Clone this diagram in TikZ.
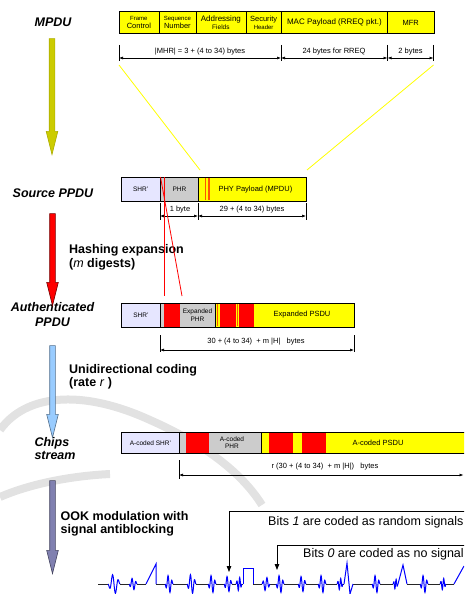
\documentclass[tikz,border=0pt]{standalone}
\usepackage{fontspec}
\setmainfont{Liberation Sans}
\usetikzlibrary{arrows.meta,shapes.arrows}

\definecolor{mpduyel}{HTML}{FFFF00}
\definecolor{hdrgrey}{HTML}{CCCCCC}
\definecolor{shrlav}{HTML}{E6E6FF}
\definecolor{olivey}{HTML}{CCCC00}
\definecolor{codeblue}{HTML}{99CCFF}
\definecolor{ookpurple}{HTML}{8080B0}
\definecolor{sigblue}{HTML}{0000FF}
\definecolor{stripeor}{HTML}{FF5500}
\definecolor{wmgrey}{HTML}{E2E2E2}

\begin{document}
\begin{tikzpicture}[x=1pt,y=-1pt,
  fld/.style={draw,line width=0.8pt,inner sep=0pt,anchor=north west,align=center,font=\fontsize{7.5}{8}\selectfont},
  blk/.style={fill=red,inner sep=0pt,anchor=north west},
  tiny/.style={font=\fontsize{6.5}{7.5}\selectfont,align=center,inner sep=0pt},
  lbl/.style={font=\fontsize{12.5}{15}\selectfont\bfseries\itshape,align=center},
  stagelbl/.style={font=\fontsize{12.5}{13.5}\selectfont\bfseries,align=left,anchor=west,inner sep=0pt},
  tick/.style={line width=0.7pt},
  dim/.style={line width=0.6pt,{Latex[length=4pt,width=3pt]}-{Latex[length=4pt,width=3pt]}},
  dimtxt/.style={font=\fontsize{7.5}{9}\selectfont,inner sep=0pt},
  blkarrow/.style={single arrow,rotate=-90,inner sep=2.5pt,single arrow head extend=3pt,single arrow tip angle=28,line width=0.6pt},
  bitlbl/.style={font=\fontsize{12.5}{14}\selectfont,anchor=west,inner sep=0pt},
  sig/.style={sigblue,line width=1pt},
  zero/.style={black!85,line width=0.9pt}]

\useasboundingbox (0,0) rectangle (464,594);
\clip (0,0) rectangle (464,594);

% watermark
\draw[wmgrey,line width=8pt] (0,430) .. controls (25,395) and (80,388) .. (150,420) .. controls (200,442) and (240,470) .. (262,505);
\draw[wmgrey,line width=8pt] (0,497) .. controls (30,484) and (70,476) .. (110,474);

% stage labels
\node[lbl] (mpdul) at (53,22) {MPDU};
\node[lbl] (srcl) at (53,193) {Source PPDU};
\node[lbl] (authl) at (52.5,314.5) {Authenticated\\PPDU};
\node[lbl,align=left,anchor=west,font=\fontsize{12.5}{13.5}\selectfont\bfseries\itshape] (chipl) at (31,448.5) {Chips\\stream};

% stage arrows
\node[blkarrow,fill=olivey,draw=olivey!85!black,minimum height=116] (a1) at (52,91) {};
\node[blkarrow,fill=red,draw=red!45!black,minimum height=92] (a2) at (52.5,254) {};
\node[blkarrow,fill=codeblue,draw=codeblue!55!black,minimum height=92] (a3) at (52.5,386) {};
\node[blkarrow,fill=ookpurple,draw=ookpurple!55!black,minimum height=93] (a4) at (52.5,521.5) {};

\node[stagelbl] (hashl) at (69,257.5) {Hashing expansion\\(\textit{\mdseries m} digests)};
\node[stagelbl] (unil) at (69,377) {Unidirectional coding\\(rate \textit{\mdseries r} )};
\node[stagelbl] (ookl) at (60.5,524) {OOK modulation with\\signal antiblocking};

% MPDU
\node[fld,fill=mpduyel,minimum width=40,minimum height=22.5] (fc) at (118.5,11) {{\fontsize{6}{7}\selectfont Frame}\\Control};
\node[fld,fill=mpduyel,minimum width=37,minimum height=22.5] (sn) at (158.5,11) {{\fontsize{6}{7}\selectfont Sequence}\\Number};
\node[fld,fill=mpduyel,minimum width=50,minimum height=22.5] (af) at (195.5,11) {{\fontsize{8}{8}\selectfont Addressing}\\{\fontsize{6.5}{7}\selectfont Fields}};
\node[fld,fill=mpduyel,minimum width=35.5,minimum height=22.5] (sh) at (245.5,11) {Security\\{\fontsize{6}{7}\selectfont Header}};
\node[fld,fill=mpduyel,minimum width=106,minimum height=22.5,font=\fontsize{8}{9}\selectfont] (mp) at (281,11) {MAC Payload (RREQ pkt.)};
\node[fld,fill=mpduyel,minimum width=46.5,minimum height=22.5] (mfr) at (387,11) {MFR};

\coordinate (m0) at (119,58);
\coordinate (m1) at (281,58);
\coordinate (m2) at (387.5,58);
\coordinate (m3) at (433.5,58);
\draw[tick] (m0) ++(0,-13) -- ++(0,16.5);
\draw[tick] (m1) ++(0,-13) -- ++(0,16.5);
\draw[tick] (m2) ++(0,-13) -- ++(0,16.5);
\draw[tick] (m3) ++(0,-13) -- ++(0,16.5);
\draw[dim] (m0) -- (m1);
\draw[dim] (m1) -- (m2);
\draw[dim] (m2) -- (m3);
\node[dimtxt] (mhr) at (200,51.5) {|MHR| = 3 + (4 to 34) bytes};
\node[dimtxt] (rreq) at (334,51.5) {24 bytes for RREQ};
\node[dimtxt] (mfrb) at (410.5,51.5) {2 bytes};

\coordinate (yl1) at (119,65);
\coordinate (yl2) at (200,170);
\coordinate (yr1) at (433.5,65);
\coordinate (yr2) at (307,170);
\draw[mpduyel,line width=0.8pt] (yl1) -- (yl2);
\draw[mpduyel,line width=0.8pt] (yr1) -- (yr2);

% Source PPDU
\node[fld,fill=shrlav,minimum width=39.5,minimum height=24,font=\fontsize{6.5}{7.5}\selectfont] (shr1) at (120.5,177) {SHR'};
\node[fld,fill=hdrgrey,minimum width=38,minimum height=24,font=\fontsize{6.5}{7.5}\selectfont] (phr1) at (160,177) {PHR};
\node[fld,fill=mpduyel,minimum width=108,minimum height=24] (pay1) at (198,177) {\hspace*{6pt}PHY Payload (MPDU)};
\draw[stripeor,line width=1.1pt] (205.5,177.6) -- (205.5,200.4);
\draw[stripeor,line width=1.1pt] (209,177.6) -- (209,200.4);

\coordinate (s0) at (160,216);
\coordinate (s1) at (198,216);
\coordinate (s2) at (306,216);
\draw[tick] (s0) ++(0,-13) -- ++(0,16.5);
\draw[tick] (s1) ++(0,-13) -- ++(0,16.5);
\draw[tick] (s2) ++(0,-13) -- ++(0,16.5);
\draw[dim] (s0) -- (s1);
\draw[dim] (s1) -- (s2);
\node[dimtxt] (oneb) at (180,209.5) {1 byte};
\node[dimtxt] (srcb) at (252,209.5) {29 + (4 to 34) bytes};

% hash lines
\coordinate (rv1) at (164,177);
\coordinate (rv2) at (164,296);
\coordinate (rd1) at (160.5,177);
\coordinate (rd2) at (182,296);
\draw[red,line width=0.8pt] (rv1) -- (rv2);
\draw[red,line width=0.8pt] (rd1) -- (rd2);

% Authenticated PPDU
\node[fld,fill=shrlav,minimum width=39,minimum height=24,font=\fontsize{6.5}{7.5}\selectfont] (shr2) at (121,303) {SHR'};
\node[fld,fill=hdrgrey,minimum width=55,minimum height=24] (phr2) at (160,303) {};
\node[fld,fill=mpduyel,minimum width=139,minimum height=24] (psdu2) at (215,303) {};
\node[blk,minimum width=16,minimum height=23.2] (ra1) at (164,303.4) {};
\node[blk,minimum width=16,minimum height=23.2] (ra2) at (220,303.4) {};
\node[blk,minimum width=15,minimum height=23.2] (ra3) at (239,303.4) {};
\draw[stripeor,line width=0.7pt] (217.5,303.6) -- (217.5,326.4);
\draw[stripeor,line width=0.7pt] (237.5,303.6) -- (237.5,326.4);
\node[tiny] (ephr) at (197.5,315) {Expanded\\PHR};
\node[dimtxt] (epsdu) at (302,315) {Expanded PSDU};

\coordinate (e0) at (160,350);
\coordinate (e1) at (354,350);
\draw[tick] (e0) ++(0,-15) -- ++(0,17);
\draw[tick] (e1) ++(0,-15) -- ++(0,17);
\draw[dim] (e0) -- (e1);
\node[dimtxt] (authb) at (256,342) {30 + (4 to 34)\ \ + m |H|\ \ \ bytes};

% Chips stream
\node[fld,fill=shrlav,minimum width=58,minimum height=21,font=\fontsize{6.5}{7.5}\selectfont] (cshr) at (121,432) {A-coded SHR'};
\node[fld,fill=hdrgrey,minimum width=81.5,minimum height=21] (cphr) at (179,432) {};
\node[fld,fill=mpduyel,minimum width=220,minimum height=21] (cpsdu) at (260.5,432) {};
\node[blk,minimum width=23,minimum height=20.2] (rc1) at (186,432.4) {};
\node[blk,minimum width=24,minimum height=20.2] (rc2) at (269,432.4) {};
\node[blk,minimum width=24,minimum height=20.2] (rc3) at (302,432.4) {};
\node[tiny] (cphrt) at (232,442.5) {A-coded\\PHR};
\node[dimtxt] (cpsdut) at (378,442.5) {A-coded PSDU};

\coordinate (c0) at (179,475);
\coordinate (c1) at (463.5,475);
\draw[tick] (c0) ++(0,-15) -- ++(0,19);
\draw[dim] (c0) -- (c1);
\node[dimtxt] (chipb) at (325,467) {r (30 + (4 to 34)\ \ + m |H|)\ \ \ bytes};

% OOK signal
\node[bitlbl] (bits1) at (268,522) {Bits \textit{1} are coded as random signals};
\node[bitlbl] (bits0) at (303,554) {Bits \textit{0} are coded as no signal};
\coordinate (b1a) at (465,511);
\coordinate (b1b) at (229,511);
\coordinate (b1c) at (229,572);
\coordinate (b0a) at (465,545);
\coordinate (b0b) at (277,545);
\coordinate (b0c) at (277,570);
\draw[line width=0.8pt,-{Triangle[length=6pt,width=4.5pt]}] (b1a) -- (b1b) -- (b1c);
\draw[line width=0.8pt,-{Triangle[length=6pt,width=4.5pt]}] (b0a) -- (b0b) -- (b0c);

\foreach \xa/\xb in {98/108,120/129,137/146,156/165,173/187,196/208,216/224,232/236,242/243,253/262,270/276,284/298,306/318,326/337,343/344,353/372,380/393,407/420,428/440,446/454}
  \draw[zero] (\xa,584) -- (\xb,584);
\foreach \xs/\w/\a in {108/12/10,129/8/6,165/8/9,187/9/10,208/8/9,224/8/8,236/6/-7,262/8/-7,276/8/9,298/8/8,318/8/9,337/6/-6,372/8/9,393/5/-5,420/8/9,440/6/-6}
  \draw[sig] plot[domain=0:\w,samples=30,smooth,variable=\t] ({\xs+\t},{584+\a*sin(\t/\w*720)*sin(\t/\w*180)});
\draw[sig] (146,584) -- (156,564) -- (156,584);
\draw[sig] (243,584) -- (243,568) -- (253,568) -- (253,584);
\draw[sig] (344,584) -- (347,563) -- (350,594) -- (353,584);
\draw[sig] (398,584) -- (403,565) -- (407,584);
\draw[sig] (454,584) -- (464,566);

\end{tikzpicture}
\end{document}
